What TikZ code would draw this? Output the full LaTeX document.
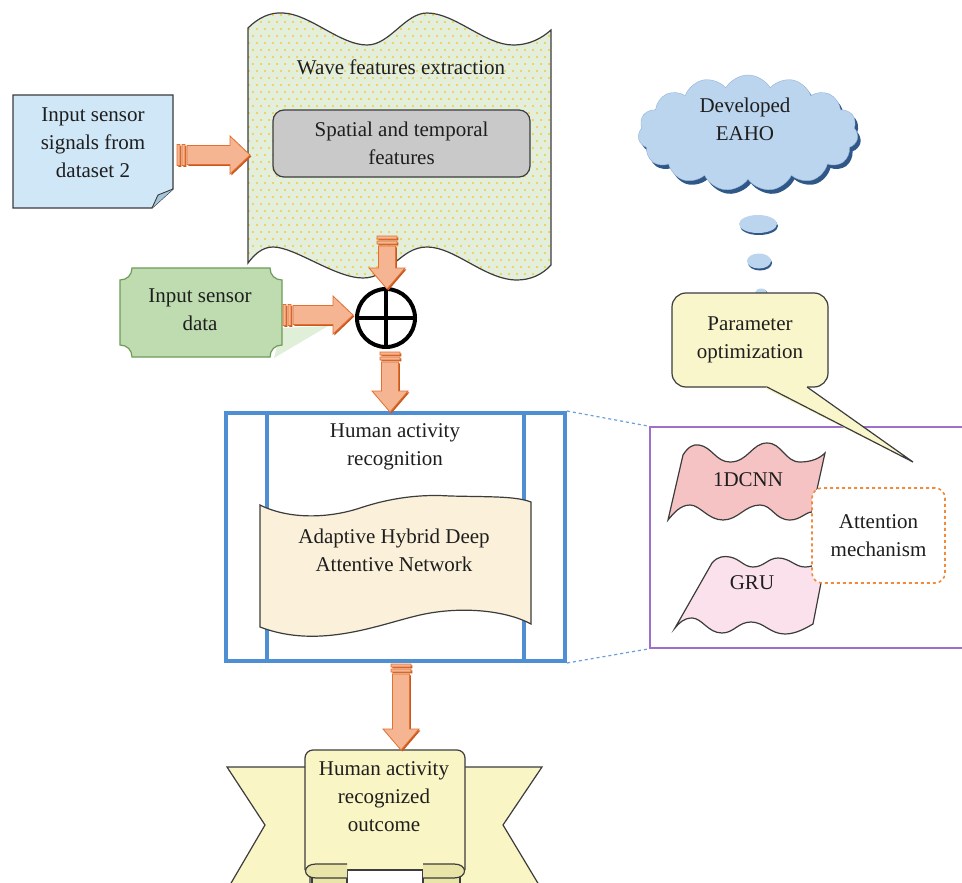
\documentclass[tikz,border=0pt]{standalone}
\usepackage{fontspec}
\setmainfont{Liberation Serif}
\usetikzlibrary{shapes.symbols,calc}
\definecolor{textcol}{HTML}{1E1E1E}
\definecolor{edge}{HTML}{3C3C3C}
\definecolor{notefill}{HTML}{CFE7F7}
\definecolor{notefold}{HTML}{A3C6DC}
\definecolor{wavegreen}{HTML}{E3EFDA}
\definecolor{dotyellow}{HTML}{F2C848}
\definecolor{grayfill}{HTML}{C9C9C9}
\definecolor{greenfill}{HTML}{BEDCAF}
\definecolor{greenedge}{HTML}{6E9C5A}
\definecolor{greenshadow}{HTML}{E0EFD8}
\definecolor{arrorange}{HTML}{F5B592}
\definecolor{arrborder}{HTML}{E2702E}
\definecolor{arrdark}{HTML}{C9581E}
\definecolor{harblue}{HTML}{4E8ED3}
\definecolor{docfill}{HTML}{FBF1DA}
\definecolor{purp}{HTML}{9D70C9}
\definecolor{pinkA}{HTML}{F5C3C4}
\definecolor{pinkB}{HTML}{FAE1EC}
\definecolor{attorange}{HTML}{F08A3C}
\definecolor{cloudblue}{HTML}{BCD5EE}
\definecolor{cloudedge}{HTML}{93B3D6}
\definecolor{cloudshadow}{HTML}{2F5788}
\definecolor{callfill}{HTML}{FAF6CC}
\definecolor{bannerfill}{HTML}{FAF5C4}
\definecolor{foldfill}{HTML}{E9E5A8}
\tikzset{
  txt/.style={font=\fontsize{21}{28}\selectfont, align=center, text=textcol},
  arrfill/.style={fill=arrorange, draw=arrborder, line width=0.8pt},
  arrshadow/.style={fill=arrdark},
  outline/.style={draw=edge, line width=1.2pt},
  cloudbase/.style={cloud, cloud puffs=15, cloud puff arc=120, aspect=1.9, minimum width=220pt, minimum height=116pt},
}
\newcommand{\harr}[4]{%
\path[#4] let \p1=(#1), \p2=(#2) in
 (\x1+#3,\y1+10.5pt-#3) rectangle (\x1+3pt+#3,\y1-10.5pt-#3)
 (\x1+5pt+#3,\y1+10.5pt-#3) rectangle (\x1+8pt+#3,\y1-10.5pt-#3)
 (\x1+10pt+#3,\y1+9.5pt-#3) -- (\x2-20pt+#3,\y1+9.5pt-#3) -- (\x2-20pt+#3,\y1+19pt-#3) -- (\x2+#3,\y1-#3) -- (\x2-20pt+#3,\y1-19pt-#3) -- (\x2-20pt+#3,\y1-9.5pt-#3) -- (\x1+10pt+#3,\y1-9.5pt-#3) -- cycle;}
\newcommand{\varr}[4]{%
\path[#4] let \p1=(#1), \p2=(#2) in
 (\x1-10pt+#3,\y1-#3) rectangle (\x1+10pt+#3,\y1-3pt-#3)
 (\x1-10pt+#3,\y1-5pt-#3) rectangle (\x1+10pt+#3,\y1-8pt-#3)
 (\x1-8.5pt+#3,\y1-10pt-#3) -- (\x1-8.5pt+#3,\y2+21pt-#3) -- (\x1-18pt+#3,\y2+21pt-#3) -- (\x1+#3,\y2-#3) -- (\x1+18pt+#3,\y2+21pt-#3) -- (\x1+8.5pt+#3,\y2+21pt-#3) -- (\x1+8.5pt+#3,\y1-10pt-#3) -- cycle;}
\begin{document}
\begin{tikzpicture}[x=1pt,y=-1pt]
\useasboundingbox (0,0) rectangle (962,883);
\fill[white] (0,0) rectangle (962,883);

% ---------- input note (dataset 2)
\draw[outline, fill=notefill] (13,95) -- (173,95) -- (173,189) -- (152,208) -- (13,208) -- cycle;
\draw[outline, fill=notefold, line width=0.9pt] (173,189) -- (158,195) -- (152,208);
\node[txt] (note) at (93,143) {Input sensor\\signals from\\dataset 2};

% ---------- wave features extraction
\draw[outline, fill=wavegreen, path picture={
  \foreach \j in {0,...,40} {\foreach \i in {0,...,39} {
    \fill[dotyellow] ({245+8*\i+4*mod(\j,2)},{8+7*\j}) circle (1.1pt);}}}]
 (248,28) .. controls (258,18) and (270,12) .. (283,13)
 .. controls (310,14) and (340,45) .. (367,45)
 .. controls (390,45) and (405,13) .. (427,13)
 .. controls (455,13) and (485,45) .. (513,45)
 .. controls (530,45) and (542,38) .. (551,30)
 -- (551,265)
 .. controls (542,275) and (530,280) .. (517,280)
 .. controls (485,280) and (455,247) .. (427,247)
 .. controls (400,247) and (390,278) .. (363,278)
 .. controls (335,278) and (295,247) .. (273,247)
 .. controls (262,247) and (254,255) .. (248,263) -- cycle;
\node[txt] (wavet) at (401,67) {Wave features extraction};
\node[txt, outline, fill=grayfill, rounded corners=11pt, minimum width=257pt, minimum height=67pt] (spatial) at (401.5,143.5) {Spatial and temporal\\features};

% ---------- input sensor data (green plaque)
\fill[greenshadow] (282,328) -- (328,326) -- (274,358) -- cycle;
\draw[draw=greenedge, line width=1.2pt, fill=greenfill]
 (132,268) -- (270,268) .. controls (270,275) and (275,280) .. (282,280)
 -- (282,345) .. controls (275,345) and (270,350) .. (270,357)
 -- (132,357) .. controls (132,350) and (127,345) .. (120,345)
 -- (120,280) .. controls (127,280) and (132,275) .. (132,268) -- cycle;
\node[txt] (sensor) at (200,310) {Input sensor\\data};

% ---------- summing junction
\node[circle, draw=black, line width=4pt, minimum size=58pt, fill=white, inner sep=0pt] (sum) at (386,318) {};
\draw[line width=4pt] (sum.north) -- (sum.south);
\draw[line width=4pt] (sum.west) -- (sum.east);

% ---------- arrows
\coordinate (a1s) at (177,155); \coordinate (a1e) at (250,155);
\coordinate (a2s) at (283,315); \coordinate (a2e) at (353,315);
\coordinate (a3s) at (387,236); \coordinate (a3e) at (387,289);
\coordinate (a4s) at (390,352); \coordinate (a4e) at (390,412);
\coordinate (a5s) at (401,664); \coordinate (a5e) at (401,750);
\harr{a1s}{a1e}{1.4pt}{arrshadow}\harr{a1s}{a1e}{0pt}{arrfill}
\harr{a2s}{a2e}{1.4pt}{arrshadow}\harr{a2s}{a2e}{0pt}{arrfill}
\varr{a3s}{a3e}{1.4pt}{arrshadow}\varr{a3s}{a3e}{0pt}{arrfill}

% ---------- human activity recognition block
\node[draw=harblue, line width=4pt, minimum width=339pt, minimum height=248pt, inner sep=0pt] (har) at (395.5,537) {};
\draw[harblue, line width=4pt] (267,413) -- (267,661);
\draw[harblue, line width=4pt] (524,413) -- (524,661);
\node[txt] (hart) at (395,447) {Human activity\\recognition};
\draw[outline, fill=docfill]
 (260,505) .. controls (290,520) and (330,518) .. (360,508)
 .. controls (390,498) and (420,494) .. (450,496)
 .. controls (490,497) and (515,496) .. (531,502)
 -- (531,624)
 .. controls (505,610) and (460,606) .. (420,615)
 .. controls (380,624) and (320,650) .. (260,627) -- cycle;
\node[txt] (ahdan) at (394,550) {Adaptive Hybrid Deep\\Attentive Network};
\varr{a4s}{a4e}{1.4pt}{arrshadow}\varr{a4s}{a4e}{0pt}{arrfill}

% ---------- zoomed detail box
\node[draw=purp, line width=1.5pt, minimum width=326pt, minimum height=221pt, inner sep=0pt] (detail) at (813,537.5) {};
\draw[harblue!85, dashed, line width=1.2pt] (har.north east) -- (detail.north west);
\draw[harblue!85, dashed, line width=1.2pt] (har.south east) -- (detail.south west);
\draw[outline, fill=pinkA]
 (683,455) .. controls (688,447) and (693,444) .. (699,445)
 .. controls (712,447) and (716,462) .. (730,462)
 .. controls (748,462) and (752,443) .. (767,443)
 .. controls (782,443) and (785,462) .. (800,462)
 .. controls (812,462) and (820,458) .. (825,453)
 -- (812,512)
 .. controls (806,512) and (800,520) .. (790,520)
 .. controls (775,520) and (772,505) .. (760,505)
 .. controls (745,505) and (738,520) .. (723,520)
 .. controls (708,520) and (700,505) .. (690,505)
 .. controls (680,505) and (673,514) .. (668,520) -- cycle;
\node[txt] (cnn) at (748,480) {1DCNN};
\draw[outline, fill=pinkB]
 (712,563) .. controls (718,556) and (724,556) .. (730,557)
 .. controls (740,559) and (744,567) .. (753,567)
 .. controls (764,567) and (768,558) .. (778,558)
 .. controls (790,558) and (795,567) .. (805,567)
 .. controls (814,567) and (820,562) .. (826,557)
 -- (813,624)
 .. controls (806,628) and (796,634) .. (785,634)
 .. controls (770,634) and (764,622) .. (751,622)
 .. controls (738,622) and (734,633) .. (722,633)
 .. controls (708,633) and (702,618) .. (692,618)
 .. controls (684,618) and (679,623) .. (675,628) -- cycle;
\node[txt] (gru) at (752,583) {GRU};
\node[txt, draw=attorange, dashed, line width=1.6pt, rounded corners=10pt, fill=white, minimum width=133pt, minimum height=95pt] (att) at (878.5,535.5) {Attention\\mechanism};

% ---------- cloud and thought bubbles
\node[cloudbase, fill=cloudshadow] (cloudsh) at (751,137) {};
\node[cloudbase, fill=cloudblue, draw=cloudedge] (cloud) at (748,133) {};
\node[txt] (eaho) at (745,119) {Developed\\EAHO};
\fill[cloudshadow] (759,226) ellipse [x radius=19pt, y radius=9pt];
\fill[cloudblue] (758,224) ellipse [x radius=19pt, y radius=9pt];
\fill[cloudshadow] (760,263) ellipse [x radius=12pt, y radius=7.5pt];
\fill[cloudblue] (759,261) ellipse [x radius=12pt, y radius=7.5pt];
\fill[cloudshadow] (762,294) ellipse [x radius=6pt, y radius=4.5pt];
\fill[cloudblue] (761,293) ellipse [x radius=6pt, y radius=4.5pt];

% ---------- callout
\node[txt, outline, fill=callfill, rounded corners=14pt, minimum width=156pt, minimum height=94pt] (param) at (750,340) {Parameter\\optimization};
\fill[callfill] (768,383) -- (806,383) -- (808,389) -- (913,462) -- (766,389) -- cycle;
\draw[outline] (767,387) -- (913,462) -- (807,387);

% ---------- output banner
\draw[outline, fill=bannerfill] (227,767) -- (310,767) -- (310,890) -- (227,890) -- (265,825) -- cycle;
\draw[outline, fill=bannerfill] (542,767) -- (460,767) -- (460,890) -- (542,890) -- (503,825) -- cycle;
\draw[outline, fill=foldfill] (312,866) -- (347,866) -- (347,890) -- (312,890) -- cycle;
\draw[outline, fill=foldfill] (423,866) -- (460,866) -- (460,890) -- (423,890) -- cycle;
\draw[outline, fill=bannerfill, rounded corners=8pt] (305,870) -- (305,750) -- (465,750) -- (465,870);
\fill[bannerfill] (306,860) rectangle (464,869);
\draw[outline] (305,870) -- (465,870);
\draw[outline, fill=foldfill] (347,864) -- (316,864) .. controls (302,864) and (302,878) .. (316,878) -- (347,878);
\draw[outline, fill=foldfill] (423,864) -- (454,864) .. controls (468,864) and (468,878) .. (454,878) -- (423,878);
\node[txt] (outcome) at (384,797) {Human activity\\recognized\\outcome};
\varr{a5s}{a5e}{1.4pt}{arrshadow}\varr{a5s}{a5e}{0pt}{arrfill}
\end{tikzpicture}
\end{document}
